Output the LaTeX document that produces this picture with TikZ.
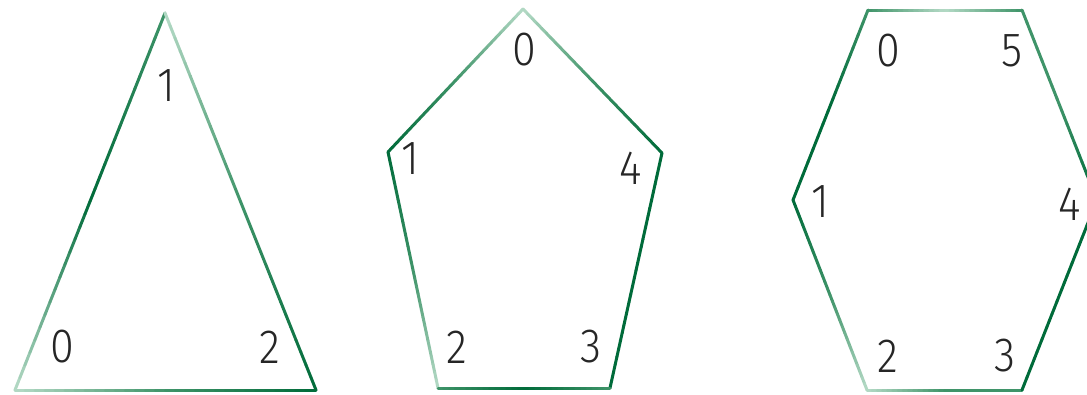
\documentclass[tikz,border=0pt]{standalone}
\usepackage{fontspec}
\setmainfont{Fira Sans Light}
\usetikzlibrary{calc}
\definecolor{gD}{HTML}{006B3A}
\definecolor{gM}{HTML}{3F9469}
\definecolor{gL}{HTML}{B5DAC6}
\newcommand\gedge[5]{%
  \foreach \i in {1,...,30}{
    \pgfmathsetmacro\ta{(\i-1)/30}
    \pgfmathsetmacro\tb{\i/30}
    \pgfmathsetmacro\tm{(\i-0.5)/30}
    \pgfmathtruncatemacro\p{\tm<0.5 ? 200*\tm : 200*(\tm-0.5)}
    \ifdim\tm pt<0.5pt \colorlet{segc}{#4!\p!#3}\else\colorlet{segc}{#5!\p!#4}\fi
    \draw[edge,segc] ($(#1)!\ta!(#2)$) -- ($(#1)!\tb!(#2)$);
  }}
\tikzset{
  edge/.style={line width=3pt, line cap=round},
  lbl/.style={font=\fontsize{48}{50}\selectfont, text=black!85, inner sep=0pt, xscale=0.9}
}
\begin{document}
\begin{tikzpicture}[x=1pt,y=-1pt]
\useasboundingbox (0,0) rectangle (1087,394);
\clip (0,0) rectangle (1087,394);
% triangle
\coordinate (T0) at (15,390);
\coordinate (T1) at (165,13);
\coordinate (T2) at (316,390);
\gedge{T0}{T1}{gL}{gD}{gM}
\gedge{T1}{T2}{gL}{gM}{gD}
\gedge{T0}{T2}{gL}{gM}{gD}
\node[lbl] (t1) at (166,86) {1};
\node[lbl] (t0) at (62,347) {0};
\node[lbl] (t2) at (270,347) {2};
% pentagon
\coordinate (P0) at (523,9);
\coordinate (P1) at (388,152);
\coordinate (P2) at (438,388);
\coordinate (P3) at (610,388);
\coordinate (P4) at (662,153);
\gedge{P0}{P1}{gL}{gM}{gD}
\gedge{P0}{P4}{gL}{gM}{gD}
\gedge{P1}{P2}{gD}{gM}{gL}
\gedge{P4}{P3}{gD}{gD}{gD}
\gedge{P2}{P3}{gM}{gD}{gM}
\node[lbl] (p0) at (524,50) {0};
\node[lbl] (p1) at (410,159) {1};
\node[lbl] (p4) at (631,168) {4};
\node[lbl] (p2) at (457,347) {2};
\node[lbl] (p3) at (591,347) {3};
% hexagon
\coordinate (H0) at (868,10);
\coordinate (H5) at (1022,10);
\coordinate (H1) at (793,200);
\coordinate (H4) at (1097,200);
\coordinate (H2) at (867,390);
\coordinate (H3) at (1022,390);
\gedge{H0}{H5}{gM}{gL}{gM}
\gedge{H0}{H1}{gM}{gD}{gD}
\gedge{H1}{H2}{gD}{gM}{gL}
\gedge{H2}{H3}{gL}{gM}{gM}
\gedge{H5}{H4}{gM}{gM}{gD}
\gedge{H4}{H3}{gD}{gD}{gD}
\node[lbl] (h0) at (888,51) {0};
\node[lbl] (h5) at (1012,51) {5};
\node[lbl] (h1) at (820,202) {1};
\node[lbl] (h4) at (1070,204) {4};
\node[lbl] (h2) at (888,356) {2};
\node[lbl] (h3) at (1005,356) {3};
\end{tikzpicture}
\end{document}
